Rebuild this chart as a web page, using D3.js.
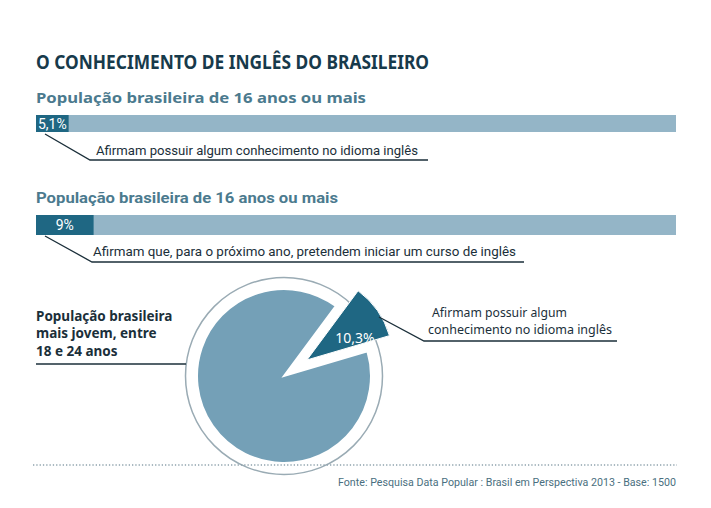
<!DOCTYPE html>
<html><head><meta charset="utf-8">
<script src="https://cdn.jsdelivr.net/npm/d3@7"></script>
<style>body{margin:0;background:#fff}svg{display:block}</style>
</head><body>
<script>
const title = "O CONHECIMENTO DE INGLÊS DO BRASILEIRO";
const barTitles = ["População brasileira de 16 anos ou mais", "População brasileira de 16 anos ou mais"];
const barValues = [5.1, 9];
const barLabels = ["5,1%", "9%"];
const barNotes = ["Afirmam possuir algum conhecimento no idioma inglês", "Afirmam que, para o próximo ano, pretendem iniciar um curso de inglês"];
const pieGroup = ["População brasileira", "mais jovem, entre", "18 e 24 anos"];
const pieValues = [10.3, 89.7];
const pieLabels = ["10,3%", ""];
const pieNote = ["Afirmam possuir algum", "conhecimento no idioma inglês"];
const source = "Fonte: Pesquisa Data Popular : Brasil em Perspectiva 2013 - Base: 1500";

const W = 711, H = 508;
const DARK = "#1f6783", LIGHTBAR = "#94b5c7", PIELIGHT = "#74a0b7";
const svg = d3.select("body").append("svg").attr("width", W).attr("height", H);

svg.append("text").attr("x", 36).attr("y", 69).text(title)
  .attr("font-family", "Noto Sans").attr("font-weight", "bold").attr("font-size", 20)
  .attr("fill", "#173a4b").attr("textLength", 393).attr("lengthAdjust", "spacingAndGlyphs");

const x = d3.scaleLinear().domain([0, 100]).range([36, 676]);

const bars = [
  {ty: 103, y: 115, h: 17, tw: 330, tfont: "Noto Sans", lx: 52, ly: 129, noteX: 96, noteY: 155, noteW: 322, lineY: 160, lineEnd: 428, lineStart: [45, 134], lineKnee: 90},
  {ty: 203, y: 215, h: 20, tw: 302, tfont: "Roboto", lx: 64, ly: 230, noteX: 93, noteY: 256, noteW: 423, lineY: 262, lineEnd: 524, lineStart: [45, 236], lineKnee: 92}
];

bars.forEach((b, i) => {
  svg.append("text").attr("x", 36).attr("y", b.ty).text(barTitles[i])
    .attr("font-family", b.tfont).attr("font-weight", "bold").attr("font-size", 15)
    .attr("fill", "#4b7a8e").attr("textLength", b.tw).attr("lengthAdjust", "spacingAndGlyphs");
  svg.append("rect").attr("x", x(0)).attr("y", b.y).attr("width", x(100) - x(0)).attr("height", b.h).attr("fill", LIGHTBAR);
  svg.append("rect").attr("x", x(0)).attr("y", b.y).attr("width", x(barValues[i]) - x(0)).attr("height", b.h).attr("fill", DARK);
  svg.append("text").attr("x", (x(0) + x(barValues[i])) / 2).attr("y", b.ly).text(barLabels[i])
    .attr("text-anchor", "middle").attr("font-family", "Roboto").attr("font-size", 14).attr("fill", "#fff");
  svg.append("path").attr("d", `M${b.lineStart[0]},${b.lineStart[1]}L${b.lineKnee},${b.lineY}L${b.lineEnd},${b.lineY}`)
    .attr("fill", "none").attr("stroke", "#1b2f3a").attr("stroke-width", 1.3);
  svg.append("text").attr("x", b.noteX).attr("y", b.noteY).text(barNotes[i])
    .attr("font-family", "Roboto").attr("font-size", 13).attr("fill", "#1b2f3a")
    .attr("textLength", b.noteW).attr("lengthAdjust", "spacingAndGlyphs");
});

// Pie
const cx = 284, cy = 376;
svg.append("circle").attr("cx", cx).attr("cy", cy).attr("r", 98.5)
  .attr("fill", "#fff").attr("stroke", "#9aabb4").attr("stroke-width", 1.5);

const a0 = 36.5 * Math.PI / 180;
const pie = d3.pie().sort(null).startAngle(a0).endAngle(a0 + 2 * Math.PI).value(d => d);
const arcs = pie(pieValues);
const arcLight = d3.arc().innerRadius(0).outerRadius(87);
const arcDark = d3.arc().innerRadius(0).outerRadius(86);
const g = svg.append("g").attr("transform", `translate(${cx},${cy})`);

g.append("path").attr("d", arcLight(arcs[1])).attr("fill", PIELIGHT).attr("stroke", "#fff").attr("stroke-width", 2);
const mid = (arcs[0].startAngle + arcs[0].endAngle) / 2;
const off = 28;
const dx = off * Math.sin(mid), dy = -off * Math.cos(mid);
g.append("path").attr("d", arcDark(arcs[0])).attr("transform", `translate(${dx},${dy})`)
  .attr("fill", DARK).attr("stroke", "#fff").attr("stroke-width", 1);
g.append("text").attr("x", 71).attr("y", -33).text(pieLabels[0])
  .attr("text-anchor", "middle").attr("font-family", "Noto Sans").attr("font-size", 14).attr("fill", "#fff");

svg.append("line").attr("x1", 36).attr("x2", 186).attr("y1", 364).attr("y2", 364)
  .attr("stroke", "#1b2f3a").attr("stroke-width", 1.3);
pieGroup.forEach((t, i) => {
  svg.append("text").attr("x", 36).attr("y", 321 + i * 17.3).text(t)
    .attr("font-family", "Noto Sans").attr("font-weight", "bold").attr("font-size", 13.5).attr("fill", "#1b2f3a");
});

svg.append("path").attr("d", "M379,317L424,341L617,341").attr("fill", "none")
  .attr("stroke", "#1b2f3a").attr("stroke-width", 1.3);
svg.append("text").attr("x", 432).attr("y", 317).text(pieNote[0])
  .attr("font-family", "Noto Sans").attr("font-size", 13).attr("fill", "#1b2f3a")
  .attr("textLength", 135).attr("lengthAdjust", "spacingAndGlyphs");
svg.append("text").attr("x", 428).attr("y", 334).text(pieNote[1])
  .attr("font-family", "Noto Sans").attr("font-size", 13).attr("fill", "#1b2f3a")
  .attr("textLength", 184).attr("lengthAdjust", "spacingAndGlyphs");

svg.append("line").attr("x1", 33).attr("x2", 677).attr("y1", 465).attr("y2", 465)
  .attr("stroke", "#8fa3ad").attr("stroke-width", 1.3).attr("stroke-dasharray", "1.3,2");
svg.append("text").attr("x", 338).attr("y", 486).text(source)
  .attr("font-family", "Roboto").attr("font-size", 11.5).attr("fill", "#4a6f80")
  .attr("textLength", 338).attr("lengthAdjust", "spacingAndGlyphs");
</script>
</body></html>
